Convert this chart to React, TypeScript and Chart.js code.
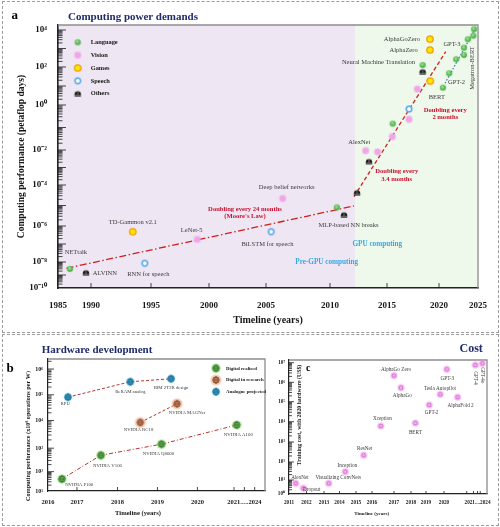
import React, { useEffect, useRef } from 'react';
import { Chart, registerables, LinearScale, LogarithmicScale } from 'chart.js';

Chart.register(...registerables);

const SERIF = "'Liberation Serif', 'Times New Roman', Times, serif";
const NAVY = '#1f2c6c';
const INK = '#161616';
const LABEL_INK = '#3b3b3b';
const RED = '#c8102e';
const SKY = '#3aa7df';

// ================= Panel a: computing power demands (petaflop-days) =================
const A_SERIES = ['Language', 'Vision', 'Games', 'Speech', 'Others'];
const A_LANGUAGE_YEARS = [1986.8, 2010.6, 2015.55, 2018.43, 2020.5, 2021.3, 2022.2, 2023.2, 2023.2, 2023.7, 2024.4, 2024.5];
const A_LANGUAGE_PFD = [2.9e-9, 8.1e-6, 0.148, 128, 8.1, 46.5, 261, 445, 1100, 3150, 4900, 1.1e4];
const A_VISION_YEARS = [1998.99, 2006.3, 2013.13, 2014.18, 2015.51, 2017.12, 2017.91];
const A_VISION_PFD = [1.8e-7, 2.2e-5, 9.1e-3, 7.8e-3, 0.039, 0.23, 6.9];
const A_GAMES_YEARS = [1993.48, 2019.13, 2019.13, 2019.16];
const A_GAMES_PFD = [4.8e-7, 3240, 832, 18.3];
const A_SPEECH_YEARS = [1994.48, 2005.41, 2017.12];
const A_SPEECH_PFD = [8e-9, 4.8e-7, 0.66];
const A_OTHERS_YEARS = [1989.24, 2011.23, 2012.37, 2013.42, 2018.43];
const A_OTHERS_PFD = [1.5e-9, 3.5e-6, 4.2e-5, 2.2e-3, 56];
const A_TREND_24M_YEARS = [1986.3, 2012.1];
const A_TREND_24M_PFD = [3.3e-9, 9.5e-6];
const A_TREND_34M_YEARS = [2012.1, 2020.86];
const A_TREND_34M_PFD = [2.7e-5, 670];
const A_TREND_2M_YEARS = [2020.77, 2024.74];
const A_TREND_2M_PFD = [13.8, 1.4e4];
const A_GPU_ERA_START = 2012.19;
const A_X_TICKS = [1985, 1990, 1995, 2000, 2005, 2010, 2015, 2020, 2025];
const A_Y_LABEL_EXPONENTS = [-10, -8, -6, -4, -2, 0, 2, 4];

// ================= Panel b: hardware development =================
const B_SERIES = ['Digital realised', 'Digital in research', 'Analogue projected'];
const B_REALISED_NAMES = ['NVIDIA P100', 'NVIDIA V100', 'NVIDIA Q8000', 'NVIDIA A100'];
const B_REALISED_YEARS = [2016.48, 2017.59, 2019.1, 2021.26];
const B_REALISED_PERF = [42, 500, 1400, 6900];
const B_RESEARCH_NAMES = ['NVIDIA RC18', 'NVIDIA MAGNet'];
const B_RESEARCH_YEARS = [2018.57, 2019.49];
const B_RESEARCH_PERF = [8500, 44700];
const B_ANALOGUE_NAMES = ['RPU', 'ReRAM analog', 'IBM 2T2R design'];
const B_ANALOGUE_YEARS = [2016.69, 2018.32, 2019.34];
const B_ANALOGUE_PERF = [81000, 3.2e5, 4.2e5];
const B_X_TICKS = [2016, 2017, 2018, 2019, 2020, 2021, 2022, 2023, 2024];
const B_X_LABELS = ['2016', '2017', '2018', '2019', '2020', '', '2021.....2024', '', ''];
const B_Y_LABEL_EXPONENTS = [1, 2, 3, 4, 5, 6];

// ================= Panel c: training cost =================
const C_MODELS = ['AlexNet', 'Dropout', 'Visualizing ConvNets', 'Inception', 'ResNet', 'Xception', 'AlphaGo Zero', 'AlphaGo', 'BERT', 'GPT-2', 'Tesla Autopilot', 'GPT-3', 'AlphaFold 2', 'GPT-4', 'GPT-4o'];
const C_YEARS = [2011.38, 2011.82, 2013.3, 2014.35, 2015.48, 2016.4, 2017.0, 2017.41, 2018.29, 2019.18, 2019.79, 2020.12, 2020.6, 2022.27, 2023.31];
const C_COST_USD = [5.8, 2.6, 5.8, 29, 218, 6100, 2.2e6, 5.3e5, 8600, 69000, 2.4e5, 4.6e6, 1.7e5, 7.6e6, 9.3e6];
const C_X_TICKS = [2011, 2012, 2013, 2014, 2015, 2016, 2017, 2018, 2019, 2020, 2021, 2022, 2022.6, 2023, 2024];
const C_X_LABELS = ['2011', '2012', '2013', '2014', '2015', '2016', '2017', '2018', '2019', '2020', '', '', '2021....2024', '', ''];
const C_Y_LABEL_EXPONENTS = [0, 1, 2, 3, 4, 5, 6, 7];

// ================= Axis layouts (non-uniform axes of the original figure) =================
const STOPS_A_X = [[1985, 58], [1990, 91], [1995, 151], [2000, 209], [2005, 266], [2010, 330], [2015, 387], [2020, 439], [2025, 478]];
const STOPS_A_Y = [[-10, 288], [-8, 262], [-6, 226], [-4, 185], [-2, 150], [0, 105], [2, 67], [4, 30], [4.27, 25]];
const STOPS_B_X = [[2016, 47.7], [2017, 76.7], [2018, 117.3], [2019, 157.3], [2020, 197.3], [2021, 234], [2024, 265]];
const STOPS_B_Y = [[1, 491], [2, 471.7], [3, 448.3], [4, 420.7], [5, 395], [6, 369.3], [6.39, 359.3]];
const STOPS_C_X = [[2011, 289], [2012, 306.5], [2013, 324], [2014, 339.5], [2015, 356], [2016, 372], [2017, 394], [2018, 411], [2019, 426], [2020, 444], [2021, 466.7], [2024, 487]];
const STOPS_C_Y = [[0, 494], [1, 480], [2, 462], [3, 442], [4, 421.7], [5, 401.7], [6, 382.3], [7, 362.7], [7.14, 360]];

// ---------- annotation placement (offsets from the labelled point, px) ----------
const A_POINT_LABELS: any[] = [
  { s: 0, i: 0, text: 'NETtalk', dx: 6, dy: -17 },
  { s: 4, i: 0, text: 'ALVINN', dx: 6.7, dy: 0.6, align: 'left' },
  { s: 3, i: 0, text: 'RNN for speech', dx: 3.6, dy: 11 },
  { s: 2, i: 0, text: 'TD-Gammon v2.1', dx: 0, dy: -9 },
  { s: 1, i: 0, text: 'LeNet-5', dx: -5.6, dy: -9.3 },
  { s: 3, i: 1, text: 'BiLSTM for speech', dx: -3.8, dy: 12.3 },
  { s: 1, i: 1, text: 'Deep belief networks', dx: 4, dy: -11.6 },
  { s: 4, i: 1, text: 'MLP-based NN breaks', dx: 4.5, dy: 10.3 },
  { s: 1, i: 2, text: 'AlexNet', dx: -6.4, dy: -8.4 },
  { s: 4, i: 4, text: 'Neural Machine Translation', dx: -7.7, dy: -9, align: 'right' },
  { s: 2, i: 1, text: 'AlphaGoZero', dx: -10, dy: 0.3, align: 'right' },
  { s: 2, i: 2, text: 'AlphaZero', dx: -12.3, dy: 0, align: 'right' },
  { s: 0, i: 8, text: 'GPT-3', dx: -12, dy: -3.7 },
  { s: 0, i: 5, text: 'GPT-2', dx: 7.4, dy: 8.7 },
  { s: 0, i: 4, text: 'BERT', dx: -6, dy: 9.3 },
  { s: 0, i: 10, text: 'Megatron-BERT', dx: -0.6, dy: 32.3, rot: -90 },
];
const A_NOTES: any[] = [
  { lines: ['Doubling every 24 months', "(Moore's Law)"], x: 2003.16, y: 6.8e-6, kind: 'trend' },
  { lines: ['Doubling every', '3.4 months'], x: 2015.93, y: 6.0e-4, kind: 'trend' },
  { lines: ['Doubling every', '2 months'], x: 2020.81, y: 0.6, kind: 'trend' },
  { lines: ['GPU computing'], x: 2014.15, y: 1e-7, kind: 'era' },
  { lines: ['Pre-GPU computing'], x: 2009.74, y: 1e-8, kind: 'era' },
];
const B_LABEL_OFFSETS: number[][][] = [
  [[17.3, 6], [6.6, 10.7], [-3, 10], [1.6, 9.3]],
  [[-1.7, 7.3], [10, 8.7]],
  [[-2.7, 7], [0, 9.7], [0, 9.3]],
];
const C_LABEL_OFFSETS: number[][] = [
  [4.3, -6], [8.4, 1.7], [9.6, -5.3], [2, -5.7], [1, -6.6], [1.6, -7], [2, -6.4], [1.3, 8.3],
  [0, 9.3], [2.4, 7.7], [-0.3, -5.6], [0.6, 9], [3, 8], [0, 13, 90], [0, 12, 90],
];

// ================= helpers =================
const SUP: Record<string, string> = { '-': '⁻', '0': '⁰', '1': '¹', '2': '²', '3': '³', '4': '⁴', '5': '⁵', '6': '⁶', '7': '⁷', '8': '⁸', '9': '⁹' };
const pow10Label = (e: number) => '10' + String(e).split('').map((c) => SUP[c]).join('');
const font = (size: number, weight = 'normal') => `${weight} ${size}px ${SERIF}`;
const pts = (xs: number[], ys: number[]) => xs.map((x, i) => ({ x, y: ys[i] }));

function normStops(stops: number[][]) {
  const p0 = stops[0][1];
  const p1 = stops[stops.length - 1][1];
  return stops.map(([v, p]) => [v, (p - p0) / (p1 - p0)]);
}
function piece(knots: number[][], v: number, a: number, b: number) {
  let i = 0;
  while (i < knots.length - 2 && v > knots[i + 1][a]) i++;
  const k0 = knots[i];
  const k1 = knots[i + 1];
  return k0[b] + ((v - k0[a]) / (k1[a] - k0[a])) * (k1[b] - k0[b]);
}
function stopScale(scaleId: string, stops: number[][], log: boolean) {
  const knots = normStops(stops);
  const Base: any = log ? LogarithmicScale : LinearScale;
  class StopScale extends Base {
    static id = scaleId;
    static defaults = Base.defaults;
    getPixelForValue(value: any) {
      if (value === null || value === undefined || Number.isNaN(value)) return NaN;
      return (this as any).getPixelForDecimal(piece(knots, log ? Math.log10(value) : value, 0, 1));
    }
    getValueForPixel(pixel: number) {
      const v = piece(knots, (this as any).getDecimalForPixel(pixel), 1, 0);
      return log ? Math.pow(10, v) : v;
    }
  }
  return StopScale;
}
Chart.register(
  stopScale('stopAx', STOPS_A_X, false) as any,
  stopScale('stopAy', STOPS_A_Y, true) as any,
  stopScale('stopBx', STOPS_B_X, false) as any,
  stopScale('stopBy', STOPS_B_Y, true) as any,
  stopScale('stopCx', STOPS_C_X, false) as any,
  stopScale('stopCy', STOPS_C_Y, true) as any,
);

function logTicks(minE: number, maxE: number) {
  const out: any[] = [];
  for (let e = Math.floor(minE); e <= Math.ceil(maxE); e++) {
    for (let k = 1; k <= 9; k++) {
      const v = k * Math.pow(10, e);
      const lv = Math.log10(v);
      if (lv >= minE - 1e-9 && lv <= maxE + 1e-9) out.push({ value: v, major: k === 1 });
    }
  }
  return out;
}
const logLabel = (exps: number[]) => (v: number, i: number, ticks: any[]) => {
  const t = ticks[i];
  if (!t || !t.major) return '';
  const e = Math.round(Math.log10(v));
  return exps.includes(e) ? pow10Label(e) : '';
};

function drawText(ctx: CanvasRenderingContext2D, s: string, x: number, y: number, f: string, color: string, align: any = 'center', rot = 0) {
  ctx.save();
  ctx.translate(x, y);
  if (rot) ctx.rotate((rot * Math.PI) / 180);
  ctx.font = f;
  ctx.fillStyle = color;
  ctx.textAlign = align;
  ctx.textBaseline = 'middle';
  ctx.fillText(s, 0, 0);
  ctx.restore();
}
function drawFrame(chart: any) {
  const { ctx, chartArea: a } = chart;
  ctx.save();
  ctx.strokeStyle = '#8d8d8d';
  ctx.lineWidth = 1.3;
  ctx.beginPath();
  ctx.moveTo(a.left, a.top);
  ctx.lineTo(a.right, a.top);
  ctx.lineTo(a.right, a.bottom);
  ctx.stroke();
  ctx.restore();
}
function drawInwardTicks(chart: any, yMajor: number, yMinor: number, xLen: number) {
  const { ctx, chartArea: a, scales } = chart;
  const xs = scales.x;
  const ys = scales.y;
  ctx.save();
  ctx.strokeStyle = '#1a1a1a';
  ctx.lineWidth = 0.8;
  ctx.beginPath();
  for (const t of ys.ticks) {
    const p = ys.getPixelForValue(t.value);
    if (p < a.top + 0.5 || p > a.bottom - 0.5) continue;
    ctx.moveTo(a.left, p);
    ctx.lineTo(a.left + (t.major ? yMajor : yMinor), p);
  }
  for (const t of xs.ticks) {
    const p = xs.getPixelForValue(t.value);
    if (p < a.left + 1 || p > a.right - 1) continue;
    ctx.moveTo(p, a.bottom);
    ctx.lineTo(p, a.bottom - xLen);
  }
  ctx.stroke();
  ctx.restore();
}

// ================= markers =================
function marker(size: number, paint: (g: CanvasRenderingContext2D) => void) {
  const c = document.createElement('canvas');
  c.width = size;
  c.height = size;
  const g = c.getContext('2d') as CanvasRenderingContext2D;
  g.translate(size / 2, size / 2);
  paint(g);
  return c;
}
function disc(g: CanvasRenderingContext2D, r: number, fill?: any, stroke?: string, lw = 1) {
  g.beginPath();
  g.arc(0, 0, r, 0, Math.PI * 2);
  if (fill) {
    g.fillStyle = fill;
    g.fill();
  }
  if (stroke) {
    g.lineWidth = lw;
    g.strokeStyle = stroke;
    g.stroke();
  }
}
function globe(halo: string, haloR: number, fill: string, stroke: string) {
  const r = 3.2;
  return marker(14, (g) => {
    disc(g, haloR, halo);
    disc(g, r, fill, stroke, 0.8);
    g.strokeStyle = stroke;
    g.lineWidth = 0.6;
    g.beginPath();
    g.moveTo(-r, 0);
    g.lineTo(r, 0);
    g.moveTo(0, -r);
    g.lineTo(0, r);
    g.stroke();
    g.beginPath();
    g.ellipse(0, 0, 1.5, r, 0, 0, Math.PI * 2);
    g.stroke();
  });
}
function buildMarkers() {
  const language = marker(10, (g) => {
    disc(g, 3.6, 'rgba(120,210,110,0.35)');
    const gr = g.createRadialGradient(-0.6, -1, 0.2, 0, 0, 3.1);
    gr.addColorStop(0, '#a4e892');
    gr.addColorStop(1, '#2f9a36');
    disc(g, 2.8, gr);
  });
  const vision = marker(10, (g) => {
    disc(g, 3.9, 'rgba(240,170,232,0.45)');
    disc(g, 3.0, '#f0a5e9');
  });
  const games = marker(10, (g) => {
    disc(g, 3.2, '#ffe600', '#f29d00', 1.3);
  });
  const speech = marker(10, (g) => {
    disc(g, 3.9, 'rgba(160,205,245,0.5)');
    disc(g, 2.7, '#ffffff', '#5aa7e6', 1.5);
  });
  const others = marker(10, (g) => {
    g.beginPath();
    g.arc(0, 0.6, 3.2, Math.PI, 0);
    g.lineTo(3.2, 2.8);
    g.lineTo(-3.2, 2.8);
    g.closePath();
    g.fillStyle = '#1d1d1d';
    g.fill();
    g.fillStyle = '#9a9a9a';
    g.fillRect(-3.2, 1.0, 6.4, 0.6);
    g.fillRect(-0.35, -2.5, 0.7, 3.5);
  });
  const bGreen = globe('rgba(125,225,95,0.6)', 4.8, '#7ad062', '#2e5e2a');
  const bOrange = globe('rgba(245,165,120,0.55)', 5.6, '#e8a27c', '#6b3a22');
  const bBlue = globe('rgba(70,195,240,0.45)', 4.4, '#3db6e6', '#1b5c80');
  const cPink = marker(10, (g) => {
    disc(g, 3.8, 'rgba(236,150,230,0.45)');
    disc(g, 2.5, '#e27cdc');
    disc(g, 0.8, '#ffffff');
  });
  return { a: [language, vision, games, speech, others], b: [bGreen, bOrange, bBlue], cPink };
}

const baseOptions = (padding: any) => ({
  responsive: false,
  animation: false as const,
  events: [] as any[],
  layout: { padding },
  plugins: { legend: { display: false }, tooltip: { enabled: false }, title: { display: false } },
});

// ================= Panel a config =================
function configA(m: any) {
  const sets = [
    [A_LANGUAGE_YEARS, A_LANGUAGE_PFD],
    [A_VISION_YEARS, A_VISION_PFD],
    [A_GAMES_YEARS, A_GAMES_PFD],
    [A_SPEECH_YEARS, A_SPEECH_PFD],
    [A_OTHERS_YEARS, A_OTHERS_PFD],
  ];
  const datasets: any[] = A_SERIES.map((name, k) => ({
    label: name,
    data: pts(sets[k][0], sets[k][1]),
    pointStyle: m.a[k],
    pointRadius: 3,
    showLine: false,
    clip: false,
  }));
  datasets.push(
    { label: 'Doubling every 24 months', data: pts(A_TREND_24M_YEARS, A_TREND_24M_PFD), showLine: true, pointRadius: 0, borderColor: '#d11f1f', borderWidth: 1.3, borderDash: [7, 2.5, 1.5, 2.5], clip: false },
    { label: 'Doubling every 3.4 months', data: pts(A_TREND_34M_YEARS, A_TREND_34M_PFD), showLine: true, pointRadius: 0, borderColor: '#d11f1f', borderWidth: 1.3, borderDash: [4, 2.5], clip: false },
    { label: 'Doubling every 2 months', data: pts(A_TREND_2M_YEARS, A_TREND_2M_PFD), showLine: true, pointRadius: 0, borderColor: '#3b6fc2', borderWidth: 1.1, borderDash: [1.6, 1.6], clip: false },
  );
  const tickFont = { family: SERIF, size: 9, weight: 'bold' as const };
  return {
    type: 'scatter' as const,
    data: { datasets },
    options: {
      ...baseOptions({ left: 0, top: 25, right: 22, bottom: 0 }),
      scales: {
        x: {
          type: 'stopAx', min: STOPS_A_X[0][0], max: STOPS_A_X[STOPS_A_X.length - 1][0],
          afterBuildTicks: (s: any) => { s.ticks = A_X_TICKS.map((v) => ({ value: v })); },
          afterFit: (s: any) => { s.height = 45; },
          grid: { display: false, drawTicks: false },
          border: { display: true, color: '#222', width: 1.6 },
          ticks: { autoSkip: false, maxRotation: 0, minRotation: 0, padding: 12.5, color: INK, font: tickFont, callback: (v: any) => String(v) },
          title: { display: true, text: 'Timeline (years)', color: INK, font: { family: SERIF, size: 10, weight: 'bold' }, padding: { top: 0, bottom: 7 } },
        },
        y: {
          type: 'stopAy', min: Math.pow(10, STOPS_A_Y[0][0]), max: Math.pow(10, STOPS_A_Y[STOPS_A_Y.length - 1][0]),
          afterBuildTicks: (s: any) => { s.ticks = logTicks(STOPS_A_Y[0][0], STOPS_A_Y[STOPS_A_Y.length - 1][0]); },
          afterFit: (s: any) => { s.width = 58; },
          grid: { display: false, drawTicks: false },
          border: { display: true, color: '#222', width: 1.6 },
          ticks: { autoSkip: false, padding: 11, color: INK, font: tickFont, callback: logLabel(A_Y_LABEL_EXPONENTS) },
          title: { display: true, text: 'Computing performance (petaflop days)', color: INK, font: { family: SERIF, size: 9.5, weight: 'bold' }, padding: { top: 16, bottom: 0 } },
        },
      },
    },
    plugins: [
      {
        id: 'panelA',
        beforeDraw(chart: any) {
          const { ctx, chartArea: a, scales } = chart;
          const gx = scales.x.getPixelForValue(A_GPU_ERA_START);
          ctx.save();
          ctx.fillStyle = '#eee6f3';
          ctx.fillRect(a.left, a.top, gx - a.left, a.bottom - a.top);
          ctx.fillStyle = '#eef8eb';
          ctx.fillRect(gx, a.top, a.right - gx, a.bottom - a.top);
          ctx.restore();
        },
        beforeDatasetsDraw(chart: any) {
          drawFrame(chart);
          drawInwardTicks(chart, 8, 4.5, 5);
        },
        afterDatasetsDraw(chart: any) {
          const { ctx, chartArea: a, scales } = chart;
          for (const l of A_POINT_LABELS) {
            const el = chart.getDatasetMeta(l.s).data[l.i];
            drawText(ctx, l.text, el.x + l.dx, el.y + l.dy, font(6.5), LABEL_INK, l.align || 'center', l.rot || 0);
          }
          for (const n of A_NOTES) {
            const x = scales.x.getPixelForValue(n.x);
            const y = scales.y.getPixelForValue(n.y);
            n.lines.forEach((line: string, k: number) => {
              if (n.kind === 'trend') drawText(ctx, line, x, y + k * 7.7, font(6.6, 'bold'), RED);
              else drawText(ctx, line, x, y + k * 7.7, font(7.2, 'bold'), SKY);
            });
          }
          const lx = a.left + 19.7;
          A_SERIES.forEach((name, k) => {
            const ly = a.top + 17.3 + k * 12.85;
            const img = m.a[k];
            ctx.drawImage(img, lx - img.width / 2, ly - img.height / 2);
            drawText(ctx, name, lx + 13, ly, font(6.4, 'bold'), INK, 'left');
          });
        },
      },
    ],
  };
}

// ================= Panel b config =================
function configB(m: any) {
  const sets = [
    [B_REALISED_YEARS, B_REALISED_PERF, B_REALISED_NAMES, [4, 2, 1, 2]],
    [B_RESEARCH_YEARS, B_RESEARCH_PERF, B_RESEARCH_NAMES, [3, 2]],
    [B_ANALOGUE_YEARS, B_ANALOGUE_PERF, B_ANALOGUE_NAMES, [3, 2]],
  ];
  const datasets = B_SERIES.map((name, k) => ({
    label: name,
    data: pts(sets[k][0] as number[], sets[k][1] as number[]),
    pointStyle: m.b[k],
    pointRadius: 4,
    showLine: true,
    borderColor: '#b9322b',
    borderWidth: 1,
    borderDash: sets[k][3],
    clip: false,
  }));
  const tickFont = { family: SERIF, size: 6.5, weight: 'bold' as const };
  return {
    type: 'scatter' as const,
    data: { datasets },
    options: {
      ...baseOptions({ left: 0, top: 24, right: 7, bottom: 0 }),
      scales: {
        x: {
          type: 'stopBx', min: STOPS_B_X[0][0], max: STOPS_B_X[STOPS_B_X.length - 1][0],
          afterBuildTicks: (s: any) => { s.ticks = B_X_TICKS.map((v) => ({ value: v })); },
          afterFit: (s: any) => { s.height = 34; },
          grid: { display: false, drawTicks: false },
          border: { display: true, color: '#222', width: 1.2 },
          ticks: { autoSkip: false, maxRotation: 0, minRotation: 0, padding: 7, color: INK, font: tickFont, callback: (_v: any, i: number) => B_X_LABELS[i] },
        },
        y: {
          type: 'stopBy', min: Math.pow(10, STOPS_B_Y[0][0]), max: Math.pow(10, STOPS_B_Y[STOPS_B_Y.length - 1][0]),
          afterBuildTicks: (s: any) => { s.ticks = logTicks(STOPS_B_Y[0][0], STOPS_B_Y[STOPS_B_Y.length - 1][0]); },
          afterFit: (s: any) => { s.width = 48; },
          grid: { display: false, drawTicks: false },
          border: { display: true, color: '#222', width: 1.2 },
          ticks: { autoSkip: false, padding: 5, color: INK, font: { family: SERIF, size: 6, weight: 'bold' as const }, callback: logLabel(B_Y_LABEL_EXPONENTS) },
        },
      },
    },
    plugins: [
      {
        id: 'panelB',
        beforeDatasetsDraw(chart: any) {
          drawFrame(chart);
          drawInwardTicks(chart, 6, 3.5, 4);
        },
        afterDatasetsDraw(chart: any) {
          const { ctx, chartArea: a } = chart;
          sets.forEach((set, k) => {
            const names = set[2] as string[];
            const meta = chart.getDatasetMeta(k);
            names.forEach((nm, i) => {
              const el = meta.data[i];
              const [dx, dy] = B_LABEL_OFFSETS[k][i];
              drawText(ctx, nm, el.x + dx, el.y + dy, font(4.8), LABEL_INK);
            });
          });
          B_SERIES.forEach((name, k) => {
            const lx = a.left + 168;
            const ly = a.top + 9.3 + k * 11.7;
            const img = m.b[k];
            ctx.drawImage(img, lx - img.width / 2, ly - img.height / 2);
            drawText(ctx, name, lx + 10, ly, font(4.8, 'bold'), INK, 'left');
          });
          drawText(ctx, 'Computing performance (x10⁶ operations per W)', 28.3, 101, font(6.2, 'bold'), INK, 'center', -90);
          drawText(ctx, 'Timeline (years)', 138, 178.3, font(6.6, 'bold'), INK);
        },
      },
    ],
  };
}

// ================= Panel c config =================
function configC(m: any) {
  const tickFont = { family: SERIF, size: 5.2, weight: 'bold' as const };
  return {
    type: 'scatter' as const,
    data: {
      datasets: [
        { label: 'Training cost', data: pts(C_YEARS, C_COST_USD), pointStyle: m.cPink, pointRadius: 3, showLine: false, clip: false },
      ],
    },
    options: {
      ...baseOptions({ left: 0, top: 25, right: 13, bottom: 0 }),
      scales: {
        x: {
          type: 'stopCx', min: STOPS_C_X[0][0], max: STOPS_C_X[STOPS_C_X.length - 1][0],
          afterBuildTicks: (s: any) => { s.ticks = C_X_TICKS.map((v) => ({ value: v })); },
          afterFit: (s: any) => { s.height = 31; },
          grid: { display: false, drawTicks: false },
          border: { display: true, color: '#222', width: 1.2 },
          ticks: { autoSkip: false, maxRotation: 0, minRotation: 0, padding: 6, color: INK, font: tickFont, callback: (_v: any, i: number) => C_X_LABELS[i] },
        },
        y: {
          type: 'stopCy', min: Math.pow(10, STOPS_C_Y[0][0]), max: Math.pow(10, STOPS_C_Y[STOPS_C_Y.length - 1][0]),
          afterBuildTicks: (s: any) => { s.ticks = logTicks(STOPS_C_Y[0][0], STOPS_C_Y[STOPS_C_Y.length - 1][0]); },
          afterFit: (s: any) => { s.width = 41; },
          grid: { display: false, drawTicks: false },
          border: { display: true, color: '#222', width: 1.2 },
          ticks: { autoSkip: false, padding: 4, color: INK, font: tickFont, callback: logLabel(C_Y_LABEL_EXPONENTS) },
        },
      },
    },
    plugins: [
      {
        id: 'panelC',
        beforeDatasetsDraw(chart: any) {
          drawFrame(chart);
          drawInwardTicks(chart, 5, 3, 3);
        },
        afterDatasetsDraw(chart: any) {
          const { ctx } = chart;
          const meta = chart.getDatasetMeta(0);
          C_MODELS.forEach((nm, i) => {
            const el = meta.data[i];
            const [dx, dy, rot] = C_LABEL_OFFSETS[i];
            drawText(ctx, nm, el.x + dx, el.y + dy, font(5.2), LABEL_INK, 'center', rot || 0);
          });
          drawText(ctx, 'Training cost, with 2020 hardware (US$)', 52, 80, font(5.8, 'bold'), INK, 'center', -90);
          drawText(ctx, 'Timeline (years)', 123.7, 178.3, font(5, 'bold'), INK);
        },
      },
    ],
  };
}

export default function App() {
  const aRef = useRef<HTMLCanvasElement>(null);
  const bRef = useRef<HTMLCanvasElement>(null);
  const cRef = useRef<HTMLCanvasElement>(null);

  useEffect(() => {
    const m = buildMarkers();
    const charts = [
      new Chart(aRef.current as HTMLCanvasElement, configA(m) as any),
      new Chart(bRef.current as HTMLCanvasElement, configB(m) as any),
      new Chart(cRef.current as HTMLCanvasElement, configC(m) as any),
    ];
    return () => charts.forEach((c) => c.destroy());
  }, []);

  const abs = (l: number, t: number, extra: any = {}) => ({ position: 'absolute' as const, left: l, top: t, ...extra });
  const heading = (size: number, color: string) => ({ fontFamily: SERIF, fontWeight: 'bold' as const, fontSize: size, lineHeight: `${size}px`, color, whiteSpace: 'nowrap' as const });

  return (
    <div style={{ position: 'fixed', left: 0, top: 0, width: 500, height: 527, background: '#ffffff', overflow: 'hidden' }}>
      <div style={abs(2, 1, { width: 497, height: 332, border: '1.5px dashed #9b9b9b', boxSizing: 'border-box' })} />
      <div style={abs(2, 334, { width: 497, height: 192, border: '1.5px dashed #9b9b9b', boxSizing: 'border-box' })} />
      <canvas ref={aRef} width={500} height={333} style={abs(0, 0)} />
      <canvas ref={bRef} width={272} height={190} style={abs(0, 335)} />
      <canvas ref={cRef} width={252} height={190} style={abs(248, 335)} />
      <div style={abs(11.5, 8.4, heading(13, '#000'))}>a</div>
      <div style={abs(68, 10.8, heading(11, NAVY))}>Computing power demands</div>
      <div style={abs(6.5, 361, heading(13, '#000'))}>b</div>
      <div style={abs(41.7, 344.2, heading(11, NAVY))}>Hardware development</div>
      <div style={abs(459.5, 341.5, heading(12, NAVY))}>Cost</div>
      <div style={abs(306, 363.3, heading(10, '#000'))}>c</div>
    </div>
  );
}
